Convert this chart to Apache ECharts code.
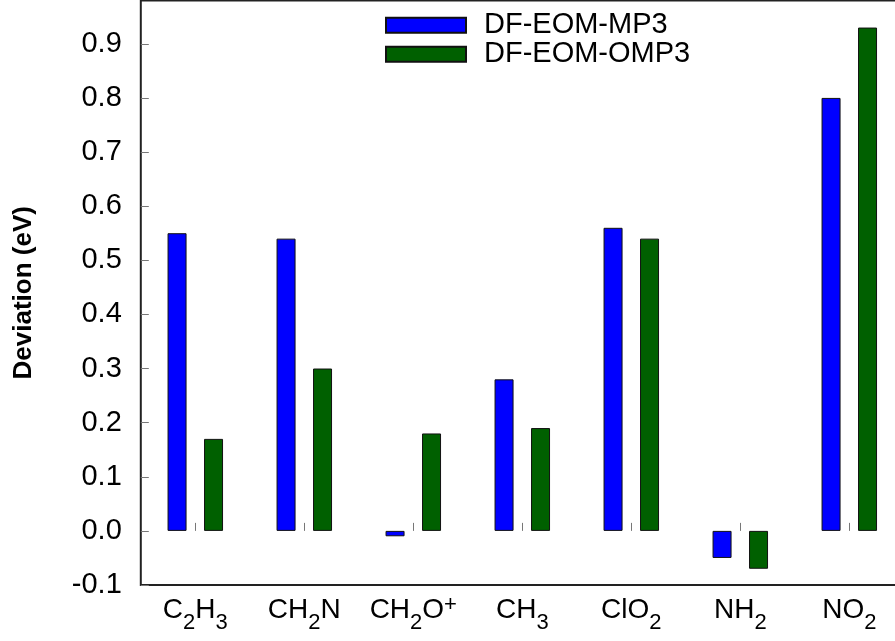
<!DOCTYPE html>
<html>
<head>
<meta charset="utf-8">
<script src="https://cdn.jsdelivr.net/npm/echarts@6/dist/echarts.min.js"></script>
<style>
  html, body { margin: 0; padding: 0; background: #fff; }
  #chart { width: 895px; height: 641px; }
</style>
</head>
<body>
<div id="chart"></div>
<script>
// Molecules (rich-text labels: m = normal, s = subscript, p = superscript)
const categories = ['C2H3', 'CH2N', 'CH2O+', 'CH3', 'ClO2', 'NH2', 'NO2'];
const categoryLabels = [
  '{m|C}{s|2}{m|H}{s|3}',
  '{m|CH}{s|2}{m|N}',
  '{m|CH}{s|2}{m|O}{p|+}',
  '{m|CH}{s|3}',
  '{m|ClO}{s|2}',
  '{m|NH}{s|2}',
  '{m|NO}{s|2}'
];
const seriesNames = ['DF-EOM-MP3', 'DF-EOM-OMP3'];
const mp3Values = [0.55, 0.54, -0.01, 0.28, 0.56, -0.05, 0.80];
const omp3Values = [0.17, 0.30, 0.18, 0.19, 0.54, -0.07, 0.93];
const yTicks = { min: -0.1, max: 0.98, step: 0.1 };

const FONT = '"Liberation Sans", Arial, Helvetica, sans-serif';
const labelMap = {};
categories.forEach((c, i) => { labelMap[c] = categoryLabels[i]; });

const chart = echarts.init(document.getElementById('chart'), null, { renderer: 'canvas' });

const barStyle = (color) => ({
  color: color,
  borderColor: '#111',
  borderWidth: 1
});

chart.setOption({
  animation: false,
  backgroundColor: '#ffffff',
  textStyle: { fontFamily: FONT },
  // plot frame runs past the right edge of the canvas
  grid: {
    left: 140.8,
    width: 763,
    top: 0.5,
    bottom: 56,
    outerBoundsMode: 'none',
    containLabel: false,
    show: true,
    borderColor: '#222',
    borderWidth: 2,
    backgroundColor: 'transparent'
  },
  legend: {
    orient: 'vertical',
    left: 385,
    top: 10.7,
    padding: 0,
    itemWidth: 80,
    itemHeight: 15,
    itemGap: 0,
    icon: 'rect',
    data: seriesNames,
    textStyle: {
      fontFamily: FONT,
      fontSize: 29,
      color: '#000',
      padding: [0, 0, 0, 13]
    }
  },
  xAxis: {
    type: 'category',
    data: categories,
    boundaryGap: true,
    axisLine: { show: false },
    axisTick: {
      show: true,
      inside: true,
      alignWithLabel: true,
      length: 8,
      lineStyle: { color: '#777', width: 1 }
    },
    axisLabel: {
      margin: 10,
      interval: 0,
      formatter: (v) => labelMap[v],
      rich: {
        m: { fontFamily: FONT, fontSize: 28, lineHeight: 30, color: '#000' },
        s: { fontFamily: FONT, fontSize: 22, lineHeight: 22, color: '#000', padding: [26, 0, 0, 0] },
        p: { fontFamily: FONT, fontSize: 22, lineHeight: 22, color: '#000', padding: [0, 0, 11, 0] }
      }
    },
    splitLine: { show: false }
  },
  yAxis: {
    type: 'value',
    min: yTicks.min,
    max: yTicks.max,
    interval: yTicks.step,
    name: 'Deviation (eV)',
    nameLocation: 'middle',
    nameGap: 104,
    nameTextStyle: {
      fontFamily: FONT,
      fontSize: 26,
      fontWeight: 'bold',
      color: '#000'
    },
    axisLine: { show: false },
    axisTick: {
      show: true,
      inside: true,
      length: 8,
      lineStyle: { color: '#777', width: 1 }
    },
    axisLabel: {
      margin: 19,
      fontFamily: FONT,
      fontSize: 29,
      color: '#000',
      showMaxLabel: false,
      formatter: (v) => {
        const r = Math.round(v * 10) / 10;
        if (Math.abs(r - v) > 1e-6) return '';
        return r.toFixed(1);
      }
    },
    splitLine: { show: false }
  },
  series: [
    {
      name: seriesNames[0],
      type: 'bar',
      data: mp3Values,
      barWidth: 19,
      barGap: '92%',
      itemStyle: barStyle('#0000ff')
    },
    {
      name: seriesNames[1],
      type: 'bar',
      data: omp3Values,
      barWidth: 19,
      barGap: '92%',
      itemStyle: barStyle('#006000')
    }
  ]
});
</script>
</body>
</html>
